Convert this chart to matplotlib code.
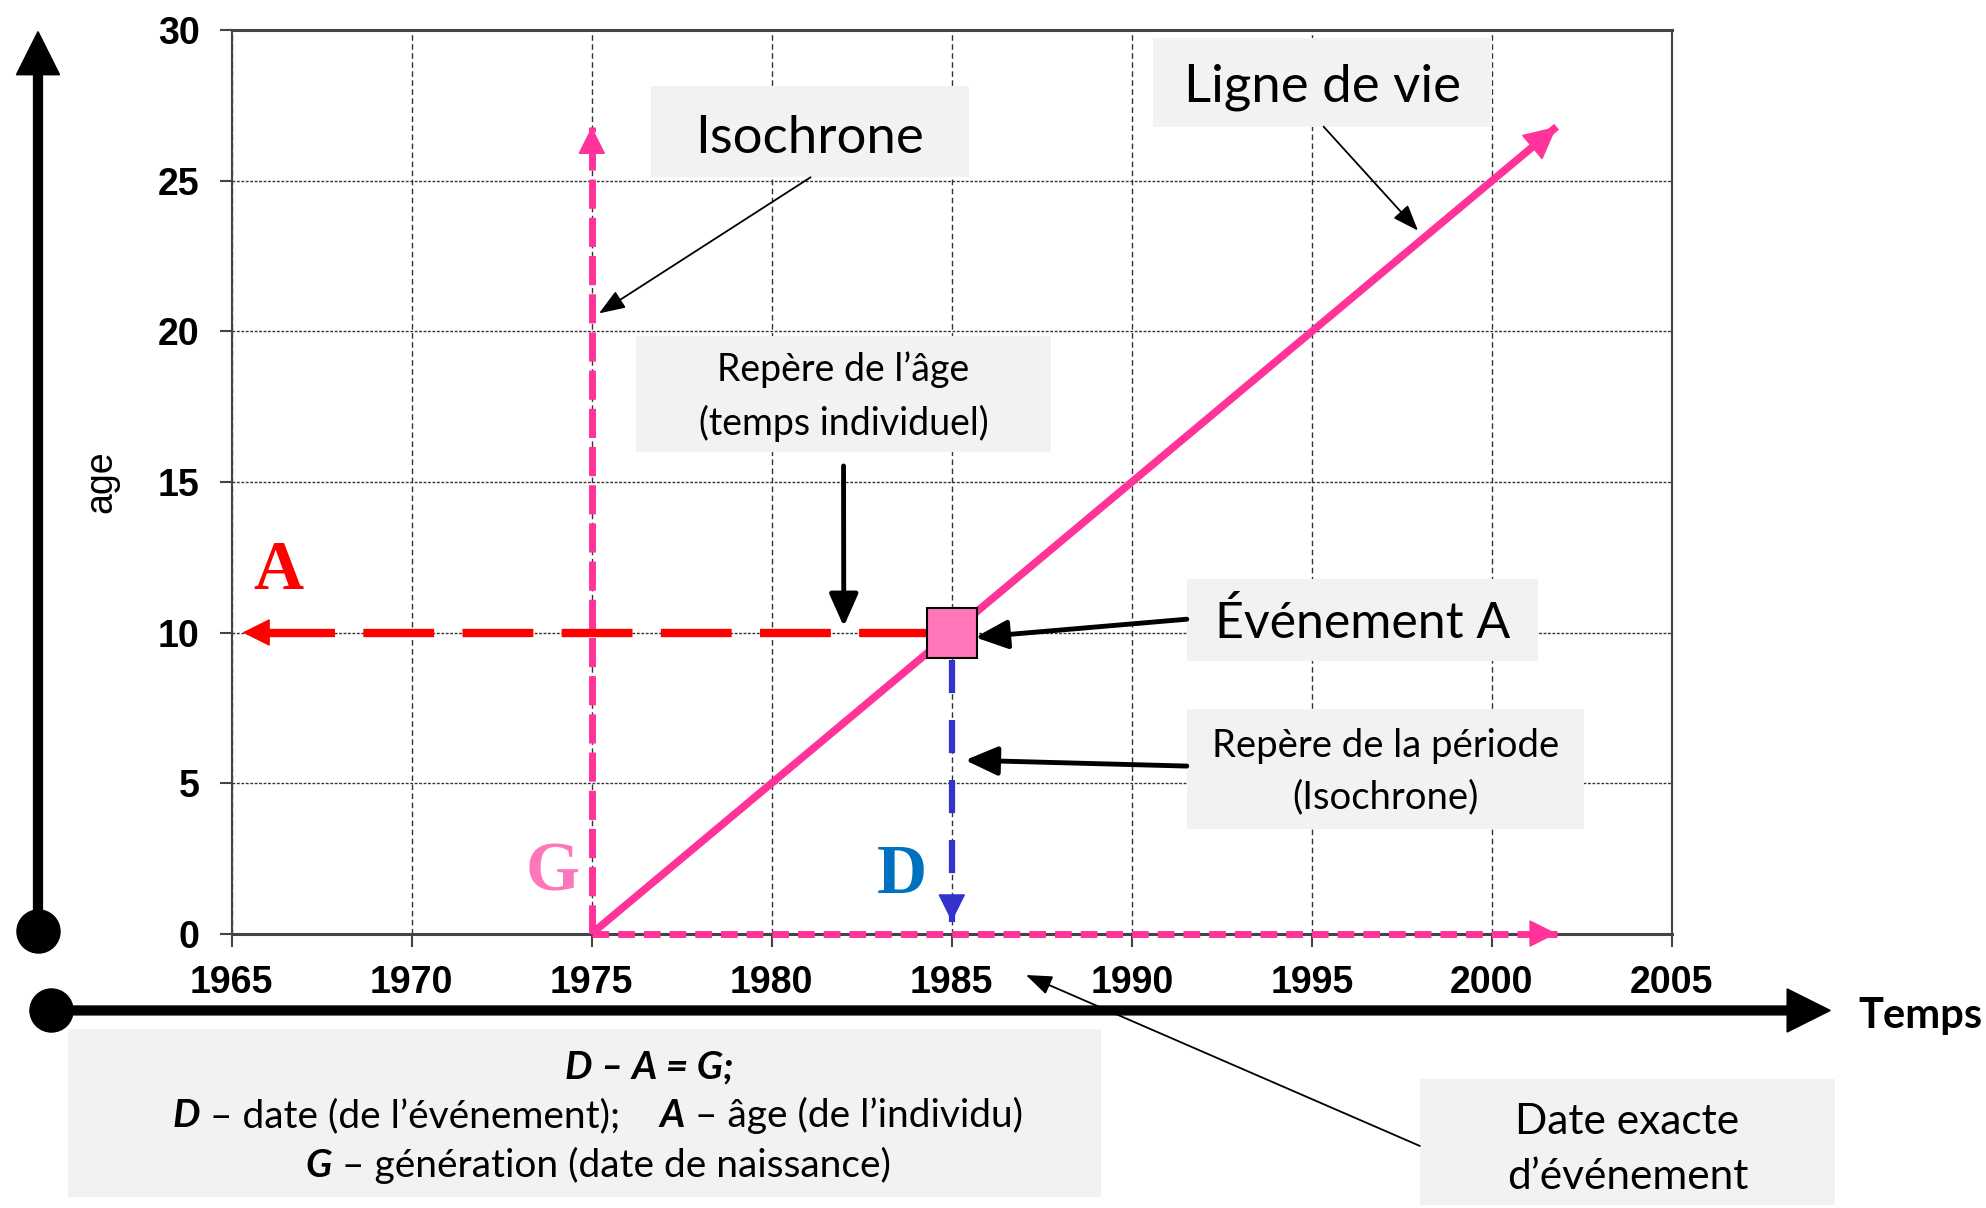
import matplotlib.pyplot as plt
from matplotlib.patches import Rectangle
from matplotlib.offsetbox import TextArea, HPacker, VPacker, AnnotationBbox

plt.rcParams['font.family'] = ['Lato', 'DejaVu Sans']

# axis values
years = [1965, 1970, 1975, 1980, 1985, 1990, 1995, 2000, 2005]
ages = [0, 5, 10, 15, 20, 25, 30]

# the individual
birth_year = 1975
event_year = 1985
event_age = 10
tip_year = 2001.8
tip_age = 26.8

life_x = [birth_year, tip_year]
life_y = [0, tip_age]
iso_x = [birth_year, birth_year]
iso_y = [0, tip_age]
gen_x = [birth_year, tip_year]
gen_y = [0, 0]
age_x = [event_year - 0.6, 1965.3]
age_y = [event_age, event_age]
period_x = [event_year, event_year]
period_y = [9.1, 0.4]

# letters A, G, D
letters = ['A', 'G', 'D']
letter_x = [1966.3, 1973.9, 1983.6]
letter_y = [12.0, 2.0, 1.9]
letter_colors = ['#FF0000', '#FF77BB', '#0070C0']

PINK = '#FF3399'
BLUE = '#3333CC'
RED = '#FF0000'
BOXC = '#F2F2F2'

fig = plt.figure(figsize=(19.86, 12.08), dpi=100)
ax = fig.add_axes([0.1167, 0.2272, 0.7251, 0.7476])
ax.set_xlim(1965, 2005)
ax.set_ylim(0, 30)
ax.set_axisbelow(True)
ax.xaxis.grid(True, color='#333333', lw=1.0, ls=(0, (4, 2.5)))
ax.yaxis.grid(True, color='#333333', lw=1.0, ls=(0, (2, 1.2)))
for s in ax.spines.values():
    s.set_color('#444444')
    s.set_linewidth(1.5)
ax.spines['top'].set_linewidth(2.2)
ax.spines['bottom'].set_linewidth(2.2)

tickfont = dict(fontfamily='Liberation Sans', fontweight='bold', fontsize=27)
ax.set_xticks(years, labels=[str(y) for y in years], **tickfont)
ax.set_yticks(ages, labels=[str(a) for a in ages], **tickfont)
ax.tick_params(length=9, width=1.5, color='#444444', pad=14)
ax.set_ylabel('age', fontfamily='Liberation Sans', fontsize=27)
ax.yaxis.set_label_coords(-0.078, 0.5)


def head(tip, back, color, scale=20):
    ax.annotate('', xy=tip, xytext=back,
                arrowprops=dict(arrowstyle='-|>,head_length=0.9,head_width=0.45',
                                mutation_scale=scale, color=color, lw=1,
                                shrinkA=0, shrinkB=0), zorder=4)


# lines
ax.plot(life_x, life_y, color=PINK, lw=5.5, solid_capstyle='butt', zorder=3)
head((life_x[1], life_y[1]), (life_x[1] - 0.6, life_y[1] - 0.6), PINK, 24)

ax.plot(iso_x, iso_y, color=PINK, lw=5, dashes=(4.2, 1.3), zorder=3)
head((iso_x[1], iso_y[1]), (iso_x[1], iso_y[1] - 0.8), PINK)

ax.plot(gen_x, gen_y, color=PINK, lw=5, dashes=(2.4, 1.3), zorder=3, clip_on=False)
head((gen_x[1], gen_y[1]), (gen_x[1] - 0.6, gen_y[1]), PINK)

ax.plot(age_x, age_y, color=RED, lw=6, dashes=(8.5, 3.4), zorder=3)
head((age_x[1], age_y[1]), (age_x[1] + 0.6, age_y[1]), RED)

ax.plot(period_x, period_y, color=BLUE, lw=4.5, dashes=(5.3, 4.3), zorder=3)
head((period_x[1], period_y[1]), (period_x[1], period_y[1] + 0.8), BLUE)

ax.plot(event_year, event_age, marker='s', ms=36, mfc='#FF77B8', mec='black',
        mew=1.5, zorder=6)

for s, x, y, c in zip(letters, letter_x, letter_y, letter_colors):
    ax.text(x, y, s, color=c, fontfamily='Liberation Serif', fontweight='bold',
            fontsize=50, ha='center', va='center', zorder=5)

# overlay in picture coordinates
ov = fig.add_axes([0, 0, 1, 1], zorder=5)
ov.set_xlim(0, 1568)
ov.set_ylim(954, 0)
ov.axis('off')

# big black axes
ov.arrow(30, 735, 0, -710, width=7, head_width=34, head_length=34,
         length_includes_head=True, color='black')
ov.plot(30, 735, 'o', ms=31, color='black')
ov.arrow(40, 798, 1405, 0, width=7, head_width=34, head_length=34,
         length_includes_head=True, color='black')
ov.plot(40, 798, 'o', ms=31, color='black')
ov.text(1467, 802, 'Temps', fontweight='bold', fontsize=30, ha='left', va='center')

# callout boxes
boxes = [
    ('Isochrone', (514, 68, 765, 140), 38, 5),
    ('Ligne de vie', (910, 30, 1178, 100), 38, 4),
    ('Repère de l’âge\n(temps individuel)', (502, 265, 830, 357), 27, 2),
    ('Événement A', (937, 457, 1214, 522), 36, 3),
    ('Repère de la période\n(Isochrone)', (937, 560, 1251, 655), 27.5, 2),
    ('Date exacte\nd’événement', (1121, 852, 1449, 952), 30.5, 6),
]
for s, (x0, y0, x1, y1), fs, dy in boxes:
    ov.add_patch(Rectangle((x0, y0), x1 - x0, y1 - y0, color=BOXC, lw=0))
    ov.text((x0 + x1) / 2, (y0 + y1) / 2 + dy, s, fontsize=fs, ha='center',
            va='center', linespacing=1.55)

thin = dict(arrowstyle='-|>,head_length=0.8,head_width=0.3', mutation_scale=20,
            color='black', lw=1.3, shrinkA=0, shrinkB=0)
thick = dict(arrowstyle='-|>,head_length=0.9,head_width=0.4', mutation_scale=22,
             color='black', lw=3.5, shrinkA=0, shrinkB=0)

callouts = [
    ((1975.2, 20.6), (640, 140), thin),
    ((1997.95, 23.35), (1045, 100), thin),
    ((1982.0, 10.2), (666, 368), thick),
    ((1985.65, 9.84), (937, 489), thick),
    ((1985.37, 5.76), (937, 605), thick),
]
for xy, xytext, props in callouts:
    ov.annotate('', xy=xy, xycoords=ax.transData, xytext=xytext,
                textcoords=ov.transData, arrowprops=props)
ov.annotate('', xy=(810, 770), xycoords=ov.transData, xytext=(1121, 905),
            textcoords=ov.transData, arrowprops=thin)

# formula box
ov.add_patch(Rectangle((54, 813), 815, 132, color=BOXC, lw=0))
bi = dict(fontweight='bold', fontstyle='italic', fontsize=28)
rg = dict(fontsize=28)
line1 = HPacker(children=[TextArea('            D – A = G;', textprops=bi)], pad=0, sep=0)
line2 = HPacker(children=[TextArea('D', textprops=bi),
                          TextArea(' – date (de l’événement);    ', textprops=rg),
                          TextArea('A', textprops=bi),
                          TextArea(' – âge (de l’individu)', textprops=rg)],
                pad=0, sep=0, align='baseline')
line3 = HPacker(children=[TextArea('G', textprops=bi),
                          TextArea(' – génération (date de naissance)', textprops=rg)],
                pad=0, sep=0, align='baseline')
pack = VPacker(children=[line1, line2, line3], pad=0, sep=9, align='center')
ab = AnnotationBbox(pack, (472, 882), xycoords='data', frameon=False,
                    box_alignment=(0.5, 0.5))
ov.add_artist(ab)

fig.savefig('out.png', dpi=100)
